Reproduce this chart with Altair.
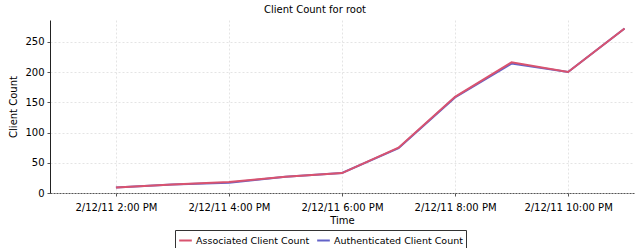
import altair as alt
import pandas as pd

times = ["2011-02-12T14:00:00Z", "2011-02-12T15:00:00Z", "2011-02-12T16:00:00Z",
         "2011-02-12T17:00:00Z", "2011-02-12T18:00:00Z", "2011-02-12T19:00:00Z",
         "2011-02-12T20:00:00Z", "2011-02-12T21:00:00Z", "2011-02-12T22:00:00Z",
         "2011-02-12T23:00:00Z"]
associated = [9, 14, 18, 27, 33, 75, 159, 216, 200, 272]
authenticated = [9, 14, 17, 27, 33, 74, 158, 214, 200, 272]
series_names = ["Associated Client Count", "Authenticated Client Count"]
series_colors = ["#d9536f", "#6262c8"]

rows = []
for t, a, b in zip(times, associated, authenticated):
    rows.append({"time": t, "series": series_names[0], "count": a})
    rows.append({"time": t, "series": series_names[1], "count": b})
df = pd.DataFrame(rows)

FONT = "DejaVu Sans"

tick_vals = [alt.DateTime(year=2011, month=2, date=12, hours=h, utc=True) for h in [14, 16, 18, 20, 22]]

x = alt.X("time:T", title="Time",
          scale=alt.Scale(type="utc",
                          domain=[alt.DateTime(year=2011, month=2, date=12, hours=12, minutes=50, utc=True),
                                  alt.DateTime(year=2011, month=2, date=12, hours=23, minutes=10, utc=True)]),
          axis=alt.Axis(values=tick_vals,
                        labelExpr="utcFormat(datum.value, '%-m/%-d/%y %-I:%M %p')",
                        labelFont=FONT, labelFontSize=10, labelColor="#000", labelPadding=6,
                        titleFont=FONT, titleFontSize=10, titleFontWeight="normal", titleColor="#000",
                        titlePadding=3,
                        domainColor="#555", domainDash=[2, 1], domainWidth=1,
                        tickColor="#555", tickSize=3,
                        grid=True, gridColor="#e4e4e4", gridDash=[2, 2]))
y = alt.Y("count:Q", title="Client Count",
          scale=alt.Scale(domain=[0, 286], nice=False, zero=True),
          axis=alt.Axis(values=[0, 50, 100, 150, 200, 250],
                        labelFont=FONT, labelFontSize=10, labelColor="#000", labelPadding=3,
                        titleFont=FONT, titleFontSize=10, titleFontWeight="normal", titleColor="#000",
                        titlePadding=6,
                        domainColor="#222", domainWidth=1,
                        tickColor="#555", tickSize=3,
                        grid=True, gridColor="#e4e4e4", gridDash=[2, 2]))
color = alt.Color("series:N", title=None,
                  scale=alt.Scale(domain=series_names, range=series_colors),
                  legend=alt.Legend(orient="none", legendX=125, legendY=210, direction="horizontal",
                                    symbolType="stroke", symbolStrokeWidth=2, symbolSize=160,
                                    labelFont=FONT, labelFontSize=9.5, labelColor="#000",
                                    strokeColor="#333", padding=3, columnPadding=3,
                                    symbolOffset=0, labelOffset=3))

base = alt.Chart(df).mark_line(strokeWidth=2).encode(x=x, y=y, color=color)

chart = alt.layer(
    base.transform_filter(alt.datum.series == series_names[1]),
    base.transform_filter(alt.datum.series == series_names[0]),
).properties(
    width=584, height=173,
    title=alt.TitleParams("Client Count for root", font=FONT, fontSize=10, fontWeight="normal",
                          color="#000", offset=5, dx=-27),
    autosize=alt.AutoSizeParams(type="none"),
    padding={"left": 50, "top": 20, "right": 8, "bottom": 55},
).configure_view(stroke=None)

chart.save("out.html", embed_options={"renderer": "svg", "actions": False})
